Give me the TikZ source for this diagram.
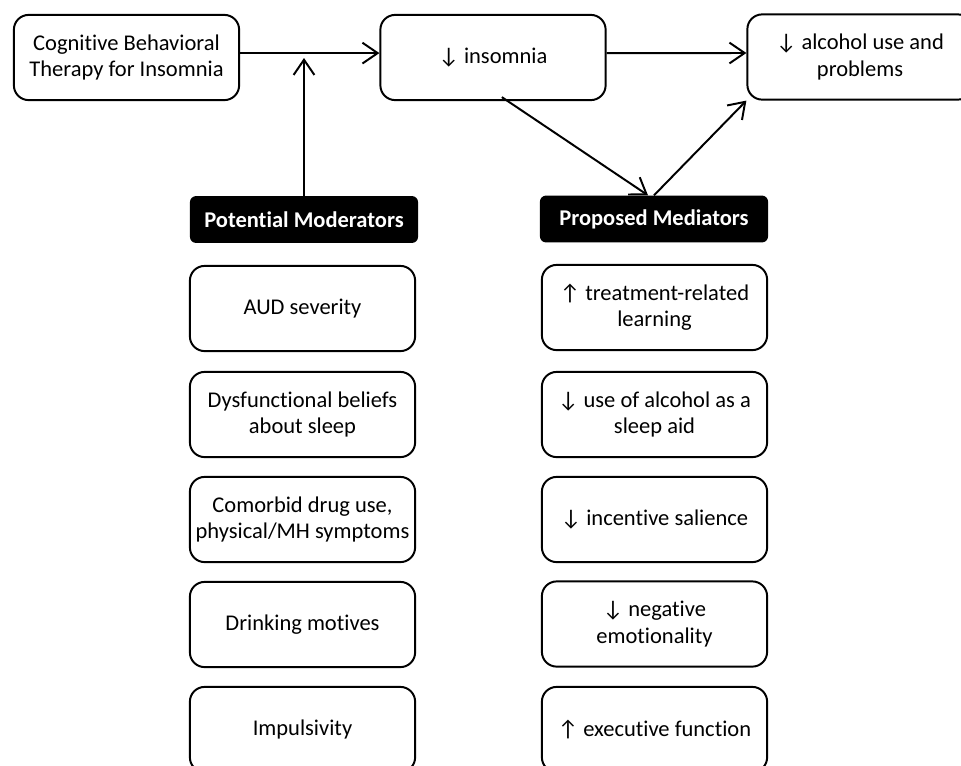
\documentclass[tikz,border=0pt]{standalone}
\usepackage{fontspec}
\setmainfont{Carlito}[Ligatures=NoCommon]
\usetikzlibrary{arrows.meta}

\tikzset{
  box/.style={draw, line width=1.4pt, rounded corners=0.37cm, align=center,
    minimum width=5.63cm, minimum height=2.13cm, inner sep=0pt,
    font=\fontsize{16}{18.6}\selectfont},
  header/.style={fill=black, text=white, rounded corners=0.15cm, align=center,
    minimum width=5.7cm, minimum height=1.17cm, inner sep=0pt,
    font=\fontsize{16}{18.6}\selectfont\bfseries},
  arr/.style={line width=1.4pt, -{Straight Barb[length=0.38cm,width=0.52cm,line width=1.4pt]}}
}

\begin{document}
\begin{tikzpicture}[x=0.025cm,y=-0.025cm]
\useasboundingbox (0,0) rectangle (961,765);
% top row
\node[box] (cbt) at (126.5,57.5) {Cognitive Behavioral\\Therapy for Insomnia};
\node[box] (ins) at (493,57.5) {↓ insomnia};
\node[box] (alc) at (860,57) {↓ alcohol use and\\problems};
% headers
\node[header] (modh) at (304,219.5) {Potential Moderators};
\node[header] (medh) at (654,219) {Proposed Mediators};
% moderators
\node[box] (aud) at (302.5,308.5) {AUD severity};
\node[box] (dys) at (302.5,414.5) {Dysfunctional beliefs\\about sleep};
\node[box] (com) at (302.5,519.5) {Comorbid drug use,\\physical/MH symptoms};
\node[box] (dri) at (302.5,624.5) {Drinking motives};
\node[box] (imp) at (302.5,729.5) {Impulsivity};
% mediators
\node[box] (lea) at (654.5,307.5) {↑ treatment-related\\learning};
\node[box] (aid) at (654.5,414.5) {↓ use of alcohol as a\\sleep aid};
\node[box] (sal) at (654.5,519.5) {↓ incentive salience};
\node[box] (emo) at (654.5,624) {↓ negative\\emotionality};
\node[box] (exe) at (654.5,729.5) {↑ executive function};
% arrows
\coordinate (modtip) at (304,58);
\draw[arr] ([yshift=0.11cm]cbt.east) -- ([yshift=0.11cm]ins.west);
\draw[arr] ([yshift=0.11cm]ins.east) -- ([yshift=0.1cm]alc.west);
\draw[arr] (modh.north) -- (modtip);
\draw[arr] ([xshift=0.22cm,yshift=0.1cm]ins.south) -- ([xshift=-0.15cm]medh.north);
\draw[arr] (medh.north) -- (alc.south west);
\end{tikzpicture}
\end{document}
